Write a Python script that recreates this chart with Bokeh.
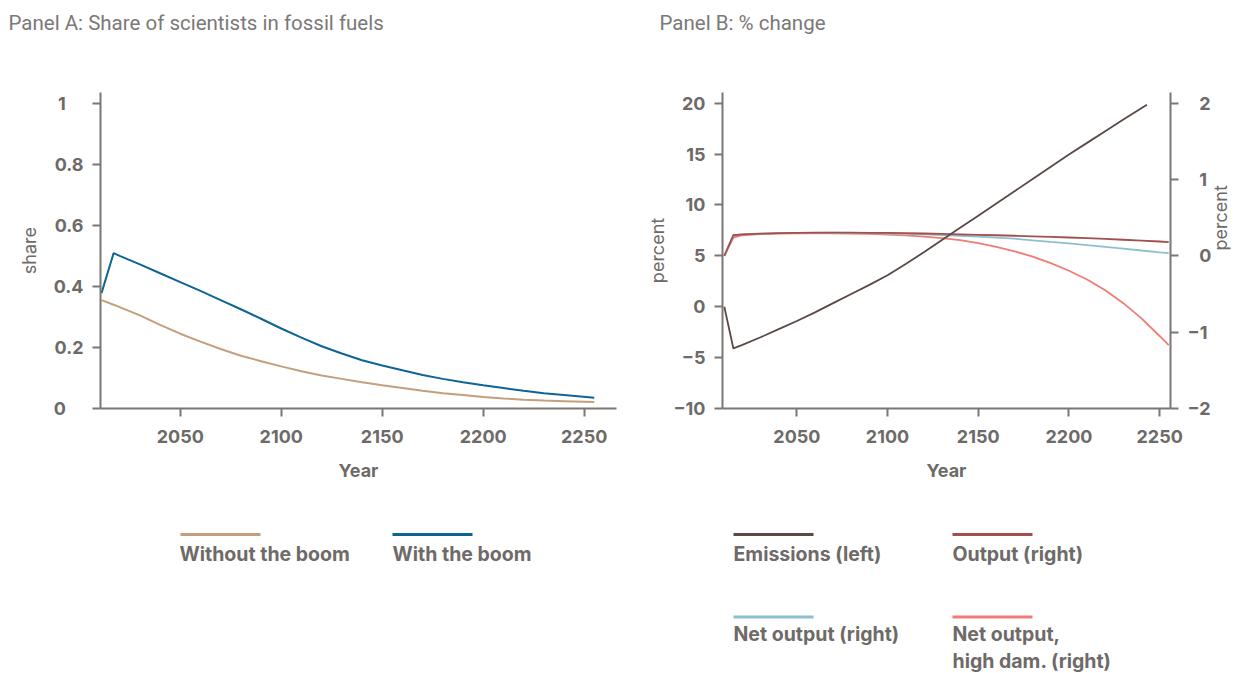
import math
from bokeh.plotting import figure
from bokeh.models import Range1d, LinearAxis, FixedTicker
from bokeh.layouts import row, column
from bokeh.embed import file_html
from bokeh.resources import INLINE
from bokeh.core.properties import value

# ---------------- data ----------------
title_a = "Panel A: Share of scientists in fossil fuels"
title_b = "Panel B: % change"

years_a = [2011, 2017, 2020, 2030, 2040, 2050, 2060, 2070, 2080, 2090, 2100, 2110, 2120,
           2130, 2140, 2150, 2160, 2170, 2180, 2190, 2200, 2210, 2220, 2230, 2240, 2255]
with_boom = [0.378, 0.509, 0.500, 0.472, 0.443, 0.414, 0.385, 0.355, 0.325, 0.294, 0.262,
             0.232, 0.204, 0.180, 0.158, 0.141, 0.125, 0.110, 0.097, 0.086, 0.076, 0.067,
             0.058, 0.050, 0.044, 0.035]
without_boom = [0.355, 0.340, 0.332, 0.305, 0.274, 0.245, 0.219, 0.195, 0.173, 0.155, 0.138,
                0.122, 0.108, 0.097, 0.086, 0.076, 0.067, 0.058, 0.050, 0.044, 0.038, 0.033,
                0.029, 0.026, 0.024, 0.021]

years_em = [2010, 2015, 2020, 2030, 2040, 2050, 2060, 2070, 2080, 2090, 2100, 2110, 2120,
            2130, 2140, 2150, 2160, 2170, 2180, 2190, 2200, 2210, 2220, 2230, 2243]
emissions = [0.0, -4.1, -3.75, -3.0, -2.2, -1.4, -0.55, 0.35, 1.25, 2.15, 3.1, 4.2, 5.35,
             6.55, 7.75, 8.95, 10.15, 11.35, 12.55, 13.75, 14.95, 16.1, 17.25, 18.4, 19.85]

years_b = [2010, 2015, 2020, 2030, 2040, 2050, 2060, 2070, 2080, 2090, 2100, 2110, 2120,
           2130, 2140, 2150, 2160, 2170, 2180, 2190, 2200, 2210, 2220, 2230, 2240, 2250, 2255]
output = [0.0, 0.27, 0.28, 0.29, 0.297, 0.300, 0.303, 0.305, 0.305, 0.302, 0.300, 0.297,
          0.293, 0.288, 0.282, 0.276, 0.270, 0.263, 0.256, 0.248, 0.240, 0.231, 0.221,
          0.211, 0.200, 0.188, 0.180]
net_output = [0.0, 0.27, 0.28, 0.29, 0.297, 0.300, 0.302, 0.303, 0.302, 0.298, 0.293, 0.287,
              0.280, 0.272, 0.263, 0.252, 0.239, 0.225, 0.203, 0.182, 0.162, 0.140, 0.118,
              0.095, 0.070, 0.046, 0.035]
net_output_high = [0.0, 0.24, 0.27, 0.285, 0.292, 0.295, 0.296, 0.295, 0.292, 0.287, 0.279,
                   0.268, 0.252, 0.232, 0.205, 0.168, 0.118, 0.060, -0.010, -0.095, -0.195,
                   -0.310, -0.450, -0.620, -0.820, -1.050, -1.170]

xa_ticks = [2050, 2100, 2150, 2200, 2250]
xa_labels = ["2050", "2100", "2150", "2200", "2250"]
ya_ticks = [0, 0.2, 0.4, 0.6, 0.8, 1]
ya_labels = ["0", "0.2", "0.4", "0.6", "0.8", "1"]
yb_left_ticks = [-10, -5, 0, 5, 10, 15, 20]
yb_left_labels = ["\u221210", "\u22125", "0", "5", "10", "15", "20"]
yb_right_ticks = [-2, -1, 0, 1, 2]
yb_right_labels = ["\u22122", "\u22121", "0", "1", "2"]

legend_a = ["Without the boom", "With the boom"]
legend_b = ["Emissions (left)", "Output (right)", "Net output (right)", "Net output,", "high dam. (right)"]

# ---------------- styles ----------------
C_TAN = "#c39f7b"
C_BLUE = "#0f6496"
C_EM = "#5b4946"
C_OUT = "#a2504d"
C_NET = "#8dc0cf"
C_HIGH = "#ef7d75"
C_AXIS = "#7b7775"
C_TEXT = "#6e6a68"
C_TITLE = "#7a7878"
FONT = "Inter"


def style_axis(ax, ticks, labels, pad=None):
    ax.ticker = FixedTicker(ticks=ticks)
    ov = {}
    for t, l in zip(ticks, labels):
        ov[t] = pad(l) if pad else l
    ax.major_label_overrides = ov
    ax.axis_line_color = C_AXIS
    ax.axis_line_width = 2
    ax.major_tick_line_color = C_AXIS
    ax.major_tick_line_width = 2
    ax.major_tick_out = 8
    ax.major_tick_in = 0
    ax.minor_tick_line_color = None
    ax.major_label_text_font = FONT
    ax.major_label_text_font_style = "bold"
    ax.major_label_text_font_size = "18px"
    ax.major_label_text_color = C_TEXT
    ax.major_label_standoff = 9
    ax.axis_label_text_font = FONT
    ax.axis_label_text_color = C_TEXT
    ax.axis_label_text_font_size = "18px"


def base_fig(xr, yr, fw, fh, bl, br, bt, bb):
    p = figure(frame_width=fw, frame_height=fh, min_border_left=bl, min_border_right=br,
               min_border_top=bt, min_border_bottom=bb, x_range=xr, y_range=yr,
               output_backend="svg", toolbar_location=None, tools="")
    p.outline_line_color = None
    p.xgrid.visible = False
    p.ygrid.visible = False
    return p


def pixel_fig(x0, w, y0, h):
    # a blank canvas whose data units are page pixels (used for titles and legends)
    p = figure(width=w, height=h, x_range=Range1d(x0, x0 + w), y_range=Range1d(y0 + h, y0),
               min_border=0, x_axis_location=None, y_axis_location=None,
               output_backend="svg", toolbar_location=None, tools="")
    p.outline_line_color = None
    p.xgrid.visible = False
    p.ygrid.visible = False
    return p


W_A = 638
W_B = 600
TOP_H = 40
PANEL_H = 450
LEG_H = 183

# ---------------- titles ----------------
ta = pixel_fig(0, W_A, 0, TOP_H)
ta.text(x=[8], y=[22], text=[title_a], text_font=value("Roboto"), text_font_size="20.5px",
        text_color=C_TITLE, text_baseline="alphabetic")
tb = pixel_fig(W_A, W_B, 0, TOP_H)
tb.text(x=[659], y=[22], text=[title_b], text_font=value("Roboto"), text_font_size="20.5px",
        text_color=C_TITLE, text_baseline="alphabetic")

# ---------------- Panel A ----------------
pa = base_fig(Range1d(2010.5, 2266), Range1d(0, 1.035), 516, 316, 100, 22, 52, 82)
pa.line(years_a, without_boom, line_color=C_TAN, line_width=2)
pa.line(years_a, with_boom, line_color=C_BLUE, line_width=2)

style_axis(pa.xaxis[0], xa_ticks, xa_labels)
pa.xaxis[0].major_label_standoff = 13
pa.xaxis[0].axis_label = "Year"
pa.xaxis[0].axis_label_text_font_style = "bold"
pa.xaxis[0].axis_label_standoff = 14


def pad_left_aligned(l):
    # keep labels visually left aligned
    if "." not in l:
        return l + "\u2008\u2007"
    return l


style_axis(pa.yaxis[0], ya_ticks, ya_labels, pad_left_aligned)
pa.yaxis[0].axis_label = "share"
pa.yaxis[0].axis_label_text_font_style = "normal"
pa.yaxis[0].axis_label_standoff = 11

# ---------------- Panel B ----------------
pb = base_fig(Range1d(2009, 2256), Range1d(-10, 21.05), 448, 316, 84, 68, 52, 82)
pb.extra_y_ranges = {"right": Range1d(-2, 2.14)}
pb.line(years_b, net_output_high, line_color=C_HIGH, line_width=1.8, y_range_name="right")
pb.line(years_b, net_output, line_color=C_NET, line_width=1.8, y_range_name="right")
pb.line(years_b, output, line_color=C_OUT, line_width=1.8, y_range_name="right")
pb.line(years_em, emissions, line_color=C_EM, line_width=1.8)

style_axis(pb.xaxis[0], xa_ticks, xa_labels)
pb.xaxis[0].major_label_standoff = 13
pb.xaxis[0].axis_label = "Year"
pb.xaxis[0].axis_label_text_font_style = "bold"
pb.xaxis[0].axis_label_standoff = 14

style_axis(pb.yaxis[0], yb_left_ticks, yb_left_labels)
pb.yaxis[0].axis_label = "percent"
pb.yaxis[0].axis_label_text_font_style = "normal"
pb.yaxis[0].axis_label_standoff = 2

ax_r = LinearAxis(y_range_name="right")
style_axis(ax_r, yb_right_ticks, yb_right_labels,
           lambda l: l if l.startswith("\u2212") else "\u2007" + l)
ax_r.axis_label = "percent"
ax_r.axis_label_text_font_style = "normal"
ax_r.axis_label_standoff = 6
try:
    ax_r.axis_label_orientation = math.pi / 2
except Exception:
    pass
pb.add_layout(ax_r, "right")

# ---------------- legends ----------------
LEG_TOP = TOP_H + PANEL_H
la = pixel_fig(0, W_A, LEG_TOP, LEG_H)
la.segment(x0=[180, 392], y0=[534, 534], x1=[260, 472], y1=[534, 534],
           line_color=[C_TAN, C_BLUE], line_width=3)
la.text(x=[179, 392], y=[553.5, 553.5], text=legend_a, text_font=value(FONT),
        text_font_style="bold", text_font_size="19.5px", text_color=C_TEXT,
        text_baseline="alphabetic")

lb = pixel_fig(W_A, W_B, LEG_TOP, LEG_H)
lb.segment(x0=[733, 952, 733, 952], y0=[534, 534, 616.5, 616.5],
           x1=[813, 1032, 813, 1032], y1=[534, 534, 616.5, 616.5],
           line_color=[C_EM, C_OUT, C_NET, C_HIGH], line_width=3)
lb.text(x=[733, 952, 733, 952, 952], y=[553.5, 553.5, 633.5, 633.5, 660],
        text=legend_b, text_font=value(FONT), text_font_style="bold",
        text_font_size="19.5px", text_color=C_TEXT, text_baseline="alphabetic")

layout = column(row(ta, tb), row(pa, pb), row(la, lb))
open("out.html", "w").write(file_html(layout, INLINE))
